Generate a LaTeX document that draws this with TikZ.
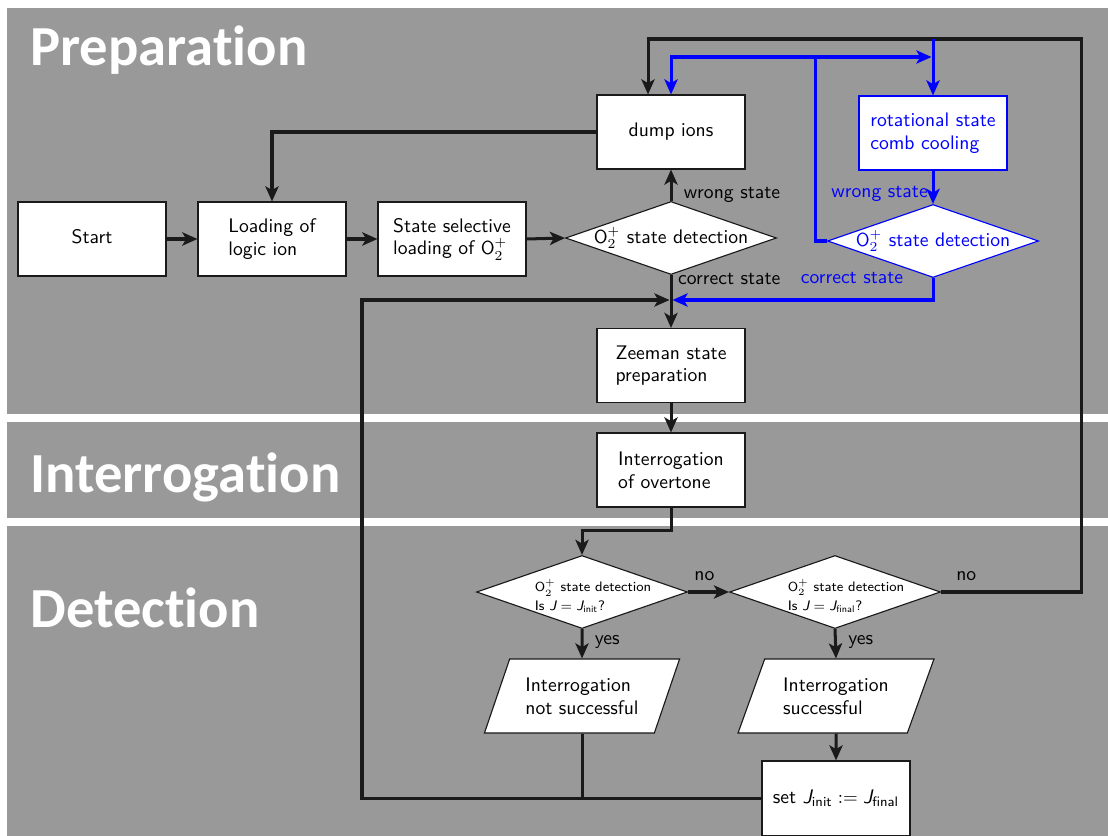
\documentclass[tikz,border=0pt]{standalone}
\usepackage{amsmath}
\usepackage{fontspec}
\usepackage{sansmath}
\usetikzlibrary{shapes.geometric,arrows.meta,calc}
\newfontfamily\headfont[Ligatures=NoCommon]{Carlito}
\definecolor{bandgray}{RGB}{153,153,153}
\definecolor{lin}{RGB}{26,26,26}
\newcommand{\Jit}{\textit{J}}
\newcommand{\Otwo}{\ensuremath{\mathsf{O}_2^+}}
\tikzset{
  box/.style={draw=lin, line width=0.6pt, fill=white, minimum width=78.44pt, minimum height=39.2pt, align=left, inner sep=0pt},
  dia/.style={diamond, draw=lin, fill=white, line width=0.6pt, inner sep=0pt, minimum width=111.8pt, minimum height=38.7pt},
  para/.style={trapezium, trapezium left angle=61.6, trapezium right angle=118.4, trapezium stretches=true, draw=lin, fill=white, line width=0.6pt, inner sep=0pt, minimum width=103.9pt, minimum height=39.2pt, align=left},
  tip/.style={-{Stealth[length=8pt,width=7pt,inset=2pt]}},
  conn/.style={draw=lin, line width=1.6pt, tip},
  plain/.style={draw=lin, line width=1.6pt},
  bconn/.style={draw=blue, line width=1.6pt, tip},
  head/.style={anchor=base west, text=white, inner sep=0pt, font=\headfont\bfseries\fontsize{30}{36}\selectfont},
  main/.style={font=\sffamily\sansmath\fontsize{10.4}{12}\selectfont},
  small/.style={align=left, font=\sffamily\sansmath\fontsize{7.3}{10}\selectfont},
  lab/.style={inner sep=2pt, main},
}
\begin{document}
\begin{tikzpicture}[x=0.53pt,y=-0.53pt, main]
\useasboundingbox (0,0) rectangle (1108,836);
% bands
\fill[bandgray] (7,8) rectangle (1108,414);
\fill[bandgray] (7,422) rectangle (1108,518);
\fill[bandgray] (7,526) rectangle (1108,836);
\node[head] (hprep) at (30,66) {Preparation};
\node[head] (hint) at (30,492) {Interrogation};
\node[head] (hdet) at (30,627) {Detection};

% nodes
\node[box] (start) at (92,239) {\raisebox{2.5pt}{Start}};
\node[box] (load) at (272,239) {Loading of\\logic ion};
\node[box] (sel) at (452,239) {State selective\\loading of \Otwo};
\node[dia] (d1) at (671,238) {};
\node (d1t) at (d1) {\Otwo\ state detection};
\node[box] (dump) at (671,132) {dump ions};
\node[box, draw=blue, text=blue] (rot) at (933,133) {rotational state\\comb cooling};
\node[dia, draw=blue] (d2) at (933,241) {};
\node[text=blue] (d2t) at (d2) {\Otwo\ state detection};
\node[box] (zee) at (671,365.5) {Zeeman state\\preparation};
\node[box] (ovt) at (671,470) {Interrogation\\of overtone};
\node[dia] (d3) at (582,592) {};
\node[small] (d3t) at ($(d3)+(11,4)$) {\Otwo\ state detection\\Is $\Jit = \Jit_{\textsf{init}}$?};
\node[dia] (d4) at (835,592) {};
\node[small] (d4t) at ($(d4)+(11,4)$) {\Otwo\ state detection\\Is $\Jit = \Jit_{\textsf{final}}$?};
\node[para] (p1) at (582,696) {Interrogation\\not successful};
\node[para] (p2) at (836,696) {Interrogation\\successful};
\node[box, minimum height=39.75pt] (setj) at (836,798.5) {set $\Jit_{\textsf{init}} := \Jit_{\textsf{final}}$};

% helper coordinates
\coordinate (m) at (671,300);
\coordinate (cl) at (362,300);
\coordinate (cr) at (1081,39);
\coordinate (dl) at ($(dump.north)+(-23,0)$);
\coordinate (bt) at (815,57);
\coordinate (rotin) at (933,57);
\coordinate (rtop) at (rot.north |- cr);

% black connectors
\draw[conn] (start) -- (load);
\draw[conn] (load) -- (sel);
\draw[conn] (sel.east) -- (d1.west);
\draw[conn] (d1.north) -- node[lab, right=4pt, pos=0.2] {wrong state} (dump.south);
\draw[conn] (dump.west) -| (load.north);
\draw[conn] (d1.south) -- node[lab, right=1pt, pos=0.07] {correct state} (zee.north);
\draw[conn] (zee) -- (ovt);
\draw[conn] (ovt.south) -- ++(0,23) -| (d3.north);
\draw[conn] (d3.east) -- node[lab, above=3pt, pos=0.4] {no} (d4.west);
\draw[conn] (d3.south) -- node[lab, right=4pt, pos=0.45] {yes} (p1.north);
\draw[conn] (d4.south) -- node[lab, right=4pt, pos=0.45] {yes} (p2.north);
\draw[conn] (p2.south) -- (setj.north);
\draw[plain] (p1.south) -- (p1.south |- setj.west);
\draw[conn, shorten >=0.8pt] (setj.west) -| (cl) -- (m);
\draw[conn] (d4.east) -- node[lab, above=3pt, pos=0.18] {no} (d4.east -| cr) -- (cr) -| (dl);

% blue connectors
\draw[bconn] (rot.south) -- node[lab, left=0pt, pos=0.7, text=blue] {wrong state} (d2.north);
\draw[bconn, shorten >=0.8pt] (d2.south) |- (m);
\node[lab, text=blue] (lcs) at (852,278) {correct state};
\draw[bconn] (d2.west) -| (bt) -| (dump.north);
\draw[bconn, shorten >=0.8pt] (bt) -- (rotin);
\draw[bconn] (rtop) -- (rot.north);
\end{tikzpicture}
\end{document}
